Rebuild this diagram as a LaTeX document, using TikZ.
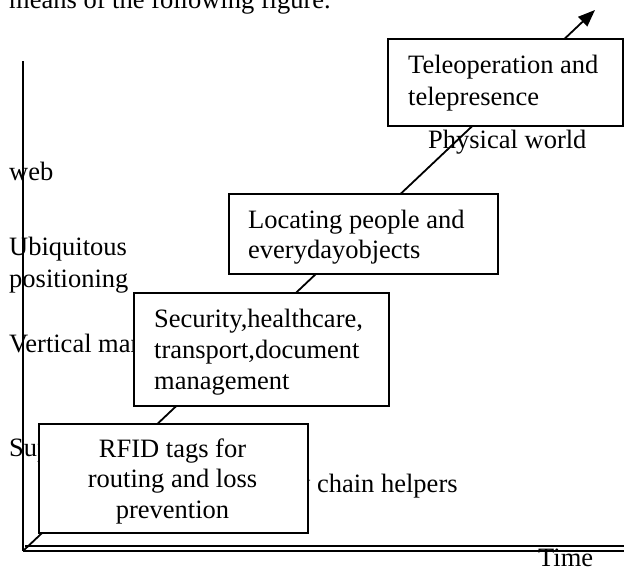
\documentclass[tikz,border=0pt]{standalone}
\usepackage{fontspec}
\setmainfont{Liberation Serif}
\usetikzlibrary{arrows.meta}
\begin{document}
\begin{tikzpicture}[x=1pt,y=-1pt,
  lbl/.style={anchor=base west,inner sep=0pt,font=\fontsize{26.5}{32}\selectfont},
  stagebox/.style={draw,fill=white,line width=2pt,inner sep=0pt,anchor=north west},
  axisline/.style={line width=1.8pt},
  thinaxis/.style={line width=1.5pt},
]
\useasboundingbox (0,0) rectangle (624,568);
\clip (0,0) rectangle (624,568);

% cut-off caption line at the top
\node[lbl] (caption) at (9,8.5) {means of the following figure.};

% axes
\coordinate (O) at (23,551);
\coordinate (ytop) at (23,61);
\coordinate (xa) at (25,546);
\coordinate (xaend) at (624,546);
\coordinate (xbend) at (624,551);
\coordinate (tip) at (595,10);
\draw[axisline] (ytop) -- (O);
\draw[thinaxis] (xa) -- (xaend);
\draw[thinaxis] (O) -- (xbend);
\draw[axisline,-{Triangle[length=17pt,width=13pt]}] (O) -- (tip);

% left-hand labels (partly hidden by the boxes)
\node[lbl] (web) at (9,180) {web};
\node[lbl] (ubi) at (9,255) {Ubiquitous};
\node[lbl] (pos) at (9,287) {positioning};
\node[lbl] (vert) at (9,352) {Vertical markets};
\node[lbl] (sup) at (9,456) {Supply};
\node[lbl] (chain) at (297,492) {y chain helpers};

% boxes
\node[stagebox,minimum width=235pt,minimum height=87pt] (tele) at (387,38) {};
\node[stagebox,minimum width=269pt,minimum height=80pt] (loc) at (228,193) {};
\node[stagebox,minimum width=255pt,minimum height=113pt] (sec) at (133,292) {};
\node[stagebox,minimum width=269pt,minimum height=109pt] (rfid) at (38,423) {};

% box texts
\node[lbl] (teletext) at (408,73) {\parbox[t]{230pt}{\raggedright\fontsize{26.5}{32}\selectfont Teleoperation and\\telepresence}};
\node[lbl] (loctext) at (248,228) {\parbox[t]{260pt}{\raggedright\fontsize{26.5}{30}\selectfont Locating people and\\everydayobjects}};
\node[lbl] (sectext) at (154,327) {\parbox[t]{250pt}{\raggedright\fontsize{26.5}{31}\selectfont Security,healthcare,\\transport,document\\management}};
\node[lbl,anchor=base] (rfidtext) at (172.5,457) {\parbox[t]{260pt}{\centering\fontsize{26.5}{30.5}\selectfont RFID tags for\\routing and loss\\prevention}};

% other labels
\node[lbl] (phys) at (428,148) {Physical world};
\node[lbl] (time) at (538,566) {Time};
\end{tikzpicture}
\end{document}
